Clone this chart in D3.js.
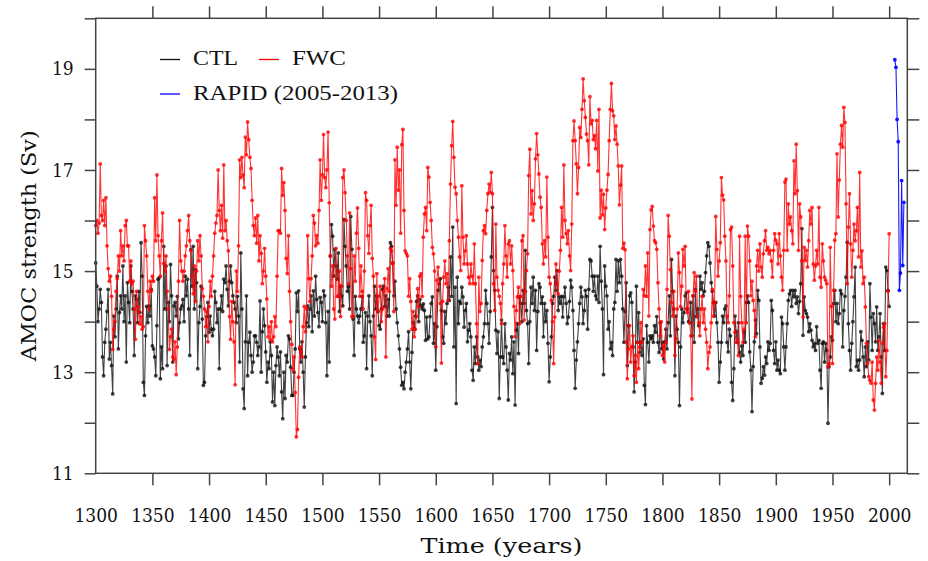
<!DOCTYPE html>
<meta charset="utf-8">
<title>AMOC strength: CTL, FWC and RAPID</title>
<style>
  body { margin: 0; background-color: white; }
  .tick text { font-family: "DejaVu Serif Condensed", "DejaVu Serif", serif; font-stretch: condensed; font-size: 19px; fill: #111; }
  .tick line { stroke: #444; stroke-width: 1.5px; }
  .axis-title { font-family: "DejaVu Serif", serif; font-size: 20px; fill: #111; }
  .legend text { font-family: "Liberation Serif", "Times New Roman", serif; font-size: 22px; fill: #111; }
  .frame { fill: none; stroke: #444; stroke-width: 1.5px; }
</style>
<svg width="928" height="561"></svg>
<script src="https://cdn.jsdelivr.net/npm/d3@7"></script>
<script>
// annual AMOC strength (Sv), 1300-2000
var ctl = [
  15.16,14.70,14.00,14.25,14.64,14.38,13.30,12.93,13.59,13.85,
  14.20,14.64,13.26,13.59,13.13,12.57,14.11,13.70,14.25,14.90,
  13.46,14.18,14.51,14.25,15.10,14.00,14.51,13.20,14.77,14.38,
  13.98,15.10,14.60,14.25,13.33,14.51,14.44,13.98,14.60,14.18,
  15.56,14.90,12.80,12.54,13.72,14.30,13.98,14.31,14.11,14.64,
  13.52,13.46,13.30,12.93,13.92,14.84,14.87,12.87,13.50,13.07,
  15.49,14.25,15.10,13.13,14.38,14.00,15.13,14.51,13.20,14.31,
  14.38,14.11,14.50,13.66,13.98,14.25,14.31,14.44,14.00,14.90,
  14.51,14.84,14.25,13.33,15.43,14.70,15.49,14.25,15.03,14.77,
  13.07,13.98,14.30,14.70,14.05,12.74,12.80,13.72,14.10,14.38,
  13.79,14.11,13.85,13.72,13.85,14.60,14.38,13.98,14.25,13.07,
  14.25,14.51,14.20,14.84,14.77,15.10,14.64,14.31,14.80,15.10,
  14.77,14.51,14.38,14.25,13.98,14.50,14.11,13.20,15.36,14.25,
  12.67,12.28,13.60,14.51,12.93,13.59,13.79,13.33,13.00,13.20,
  13.72,13.72,13.59,13.33,13.50,14.41,13.00,13.80,14.25,13.92,
  13.40,12.80,13.20,13.07,13.60,13.33,12.41,13.00,12.34,13.13,
  13.50,13.30,12.93,13.40,12.61,12.08,13.00,12.48,13.33,13.20,
  13.72,13.66,13.10,12.54,12.54,13.00,13.46,14.57,14.20,14.61,
  13.46,13.20,13.60,13.00,12.31,13.30,13.98,14.31,13.90,14.25,
  14.51,13.80,14.61,14.11,14.90,14.44,14.18,13.90,14.48,14.38,
  14.00,14.61,14.51,13.98,12.93,14.20,13.20,15.30,15.92,15.69,
  14.90,15.43,15.10,14.84,15.36,14.20,14.70,14.51,14.31,16.02,
  15.49,15.10,14.60,14.70,14.25,16.08,15.43,14.05,13.33,14.50,
  14.25,14.11,13.98,14.11,14.25,14.50,13.59,13.72,14.18,13.07,
  14.11,14.51,14.00,13.72,12.93,14.11,14.70,14.25,14.51,14.20,
  13.92,13.85,14.25,14.64,14.70,14.30,14.51,14.11,14.44,14.11,
  15.56,15.49,15.16,14.51,14.80,14.25,13.98,13.72,13.46,13.10,
  12.74,12.80,12.67,13.00,13.20,13.46,13.80,13.20,12.67,13.39,
  13.98,13.85,14.11,14.40,14.51,14.00,14.44,14.31,14.25,14.35,
  14.22,13.63,14.09,13.66,13.70,14.10,14.36,14.49,13.57,13.96,
  13.04,13.90,14.62,14.75,14.85,14.22,13.70,13.57,14.20,13.96,
  14.36,14.68,14.42,15.28,14.50,15.87,13.50,14.68,12.38,14.88,
  13.96,14.40,14.36,14.68,14.49,13.89,14.22,14.36,13.60,13.83,
  13.96,13.70,13.04,12.84,13.50,13.17,13.70,13.30,13.04,13.24,
  13.11,13.50,13.70,13.96,14.62,14.36,13.96,13.57,14.20,15.28,
  16.26,15.01,14.62,13.83,13.37,13.80,12.48,13.30,14.03,13.30,
  13.17,13.96,13.50,13.04,12.45,13.37,13.24,13.70,12.97,13.60,
  12.35,13.83,13.96,13.37,14.49,14.36,14.00,14.62,14.36,15.41,
  14.22,13.96,13.17,14.00,14.68,14.36,14.88,14.22,14.62,13.43,
  14.20,14.75,14.68,14.36,14.49,13.70,14.36,14.00,14.22,13.57,
  12.81,13.30,13.70,14.36,14.50,14.88,14.62,15.01,14.22,14.49,
  14.36,14.50,14.09,14.49,14.68,14.36,13.96,14.09,14.40,14.82,
  14.68,14.22,13.43,12.68,13.24,13.60,13.96,14.36,14.68,14.49,
  13.96,14.22,14.62,14.50,13.85,14.64,15.23,15.20,14.90,14.60,
  14.90,14.51,14.44,14.90,14.38,15.49,14.80,14.25,12.95,15.10,
  14.70,14.51,13.85,14.00,13.46,13.59,13.33,14.25,14.38,15.23,
  14.60,15.20,14.77,15.23,14.90,14.25,13.59,14.20,14.77,13.13,
  13.92,14.51,14.57,14.38,13.50,12.61,13.20,14.70,13.59,14.18,
  13.39,13.60,13.33,13.66,12.74,12.36,13.92,13.59,13.20,13.72,
  13.66,13.72,13.59,13.92,13.79,14.10,13.59,13.39,13.98,13.46,
  13.59,13.26,13.60,13.85,13.46,13.98,14.51,13.72,15.23,14.60,
  14.25,12.93,14.11,13.85,13.59,12.34,13.50,14.25,13.98,14.18,
  14.51,14.57,14.25,14.00,13.98,14.38,13.72,14.51,13.59,14.64,
  14.10,14.25,13.92,14.90,14.64,14.77,14.51,14.60,14.97,15.30,
  15.56,15.49,15.16,14.77,14.60,14.38,14.11,14.38,13.98,13.59,
  12.80,13.20,13.59,14.11,13.98,14.25,14.31,13.59,13.40,13.85,
  13.72,12.80,12.44,13.07,14.11,13.80,13.59,13.98,13.39,13.20,
  13.52,13.33,13.80,13.59,14.38,14.51,14.38,13.40,13.04,12.22,
  13.11,13.60,14.03,13.76,14.62,14.42,13.50,12.78,12.88,13.11,
  12.94,13.30,13.17,13.60,13.43,13.57,14.42,14.22,13.43,13.17,
  13.60,13.04,13.24,13.04,12.97,14.09,13.96,13.50,13.04,13.50,
  13.96,14.42,14.55,14.62,14.30,14.62,14.49,14.62,14.36,14.49,
  14.16,14.40,14.75,15.84,13.73,14.49,14.22,14.16,14.09,13.80,
  13.96,13.83,13.63,13.50,13.57,13.43,13.90,13.57,13.63,13.04,
  12.68,13.57,13.60,13.20,13.57,13.43,11.99,13.11,13.30,13.70,
  13.63,14.36,14.62,14.00,14.36,13.96,14.16,14.62,14.55,13.50,
  14.22,14.50,14.88,15.57,13.96,13.43,13.04,13.57,14.00,14.49,
  15.08,13.11,13.24,13.04,13.24,13.80,13.63,13.30,12.91,13.50,
  13.11,13.60,13.24,14.75,14.09,13.43,14.16,13.96,13.60,14.29,
  13.43,13.70,14.16,13.30,12.58,13.96,13.43,15.08,15.01,14.62,
  14.30
];
var fwc = [
  15.90,16.00,15.75,15.95,17.12,16.10,16.00,16.40,15.90,16.45,
  15.50,15.05,14.80,14.90,14.50,13.45,13.85,14.00,14.60,14.85,
  15.30,15.00,15.80,15.30,15.50,15.20,15.90,16.00,15.50,15.50,
  14.80,15.20,14.75,14.80,14.25,13.65,14.60,14.30,14.20,13.95,
  14.10,13.85,13.90,15.90,15.60,15.30,14.60,14.25,14.80,14.60,
  14.90,14.80,16.45,15.60,16.90,15.70,15.30,14.90,15.60,16.15,
  15.15,15.00,15.30,14.60,14.25,13.45,13.70,13.85,13.30,13.25,
  13.60,12.95,13.50,14.80,16.00,15.20,15.00,14.80,15.00,15.30,
  15.50,15.80,16.10,15.60,15.40,14.90,14.55,15.10,14.40,15.00,
  15.60,15.20,15.70,15.30,14.65,14.50,14.25,13.90,14.20,13.60,
  14.30,14.80,14.50,14.90,15.30,15.75,15.95,16.10,17.00,16.20,
  15.80,16.30,15.65,17.10,15.80,16.00,15.60,15.40,14.10,13.65,
  14.40,14.00,13.60,12.75,15.00,14.60,15.50,17.20,16.85,17.25,
  16.90,16.65,17.65,17.30,17.95,17.60,17.25,17.03,16.40,15.90,
  15.70,16.05,15.55,16.10,15.20,15.70,15.35,14.75,15.00,15.45,
  14.90,14.45,13.70,13.90,13.65,14.00,13.60,13.70,14.10,13.90,
  14.90,15.80,15.80,15.75,17.03,16.50,16.75,16.20,15.25,14.95,
  15.70,14.60,14.00,13.55,13.05,13.30,12.60,11.72,11.87,12.90,
  13.50,13.40,13.30,13.90,14.30,13.80,14.25,15.70,14.85,14.40,
  14.85,15.30,16.10,15.95,15.50,15.70,15.55,16.20,17.20,16.40,
  16.90,17.70,16.85,16.65,17.00,17.75,16.35,15.30,14.70,15.10,
  14.25,14.05,15.45,14.50,14.50,15.00,14.10,14.70,16.85,17.00,
  16.55,16.00,15.30,14.75,16.15,15.05,14.10,14.10,15.30,14.80,
  15.75,16.25,15.45,14.50,15.10,14.60,14.25,15.00,16.55,16.40,
  15.70,15.35,15.90,16.30,15.25,14.90,13.70,13.25,14.95,14.20,
  14.50,14.70,14.00,14.25,14.60,14.85,13.30,14.65,15.05,14.60,
  15.45,15.40,15.15,14.20,17.20,16.30,17.45,16.60,17.00,15.75,
  17.50,17.80,16.20,15.40,15.35,15.30,14.50,14.85,14.40,13.85,
  14.20,13.70,13.85,14.10,14.65,14.30,14.90,14.95,14.50,15.67,
  16.13,16.26,15.80,17.05,16.86,16.36,16.00,15.47,15.34,15.00,
  13.50,14.82,15.08,14.75,14.36,13.18,14.40,14.88,15.20,14.75,
  14.95,14.42,15.60,16.72,17.48,17.96,17.25,16.66,16.53,16.00,
  15.67,15.28,15.01,16.69,15.67,15.14,15.40,15.70,15.14,14.88,
  14.75,15.14,14.90,14.75,15.54,14.75,13.96,13.17,14.88,14.20,
  14.36,15.21,15.80,15.90,15.74,16.20,16.53,16.72,16.56,16.95,
  16.53,14.75,14.22,15.93,14.88,14.62,14.50,14.36,13.96,14.75,
  15.14,15.90,15.30,14.88,15.54,15.60,15.14,15.50,15.01,14.30,
  13.70,14.22,14.49,14.68,13.96,14.50,15.60,15.70,14.03,14.60,
  15.01,15.34,16.89,17.41,16.13,16.59,16.00,16.33,17.22,17.72,
  17.30,16.92,16.46,16.26,15.54,15.14,15.60,15.28,16.86,15.67,
  14.88,14.75,14.42,14.00,13.17,14.09,15.14,14.75,14.55,15.00,
  15.41,16.26,15.67,17.10,16.00,15.74,15.54,15.80,15.30,15.01,
  15.93,17.58,17.97,17.58,17.12,16.53,17.05,17.84,17.64,18.20,
  18.80,18.37,18.04,17.71,17.58,17.10,18.45,17.91,17.98,17.60,
  17.68,17.42,17.98,16.98,18.20,16.05,16.60,16.11,16.52,15.82,
  16.25,16.60,16.91,17.58,18.20,18.71,18.17,18.07,17.60,17.87,
  17.51,17.08,16.31,16.70,17.08,15.45,15.55,15.42,13.60,12.87,
  13.46,13.92,13.20,13.50,13.72,12.93,13.33,12.80,13.59,13.07,
  13.50,13.98,13.59,14.64,14.51,15.10,14.50,15.36,14.11,15.82,
  16.21,16.28,15.89,15.60,15.56,15.43,14.77,14.25,13.72,14.00,
  13.33,13.52,13.20,13.59,14.64,16.10,15.69,15.03,14.38,14.11,
  14.60,13.33,13.66,14.25,15.36,14.97,14.30,14.70,15.43,15.10,
  15.49,14.25,14.18,14.60,13.98,13.72,12.47,14.51,14.97,14.60,
  14.90,14.11,13.98,13.72,14.25,14.50,13.98,14.25,13.85,13.59,
  13.07,13.39,13.50,13.98,14.64,14.11,14.38,16.08,15.43,14.90,
  15.20,15.56,16.85,16.50,16.41,15.69,15.20,14.11,13.98,14.51,
  15.82,15.87,15.10,13.98,13.79,13.59,13.66,13.33,15.69,14.50,
  13.98,13.59,13.85,15.69,13.98,15.89,15.69,15.20,14.51,14.80,
  14.42,14.22,13.70,15.10,15.41,15.00,15.54,15.08,14.88,15.34,
  15.60,15.80,15.41,15.47,15.34,15.41,15.20,14.88,15.41,15.74,
  15.61,15.54,15.14,15.74,15.30,14.88,14.62,15.41,16.76,16.82,
  15.41,16.33,15.93,16.07,15.80,15.54,17.18,16.53,17.51,16.59,
  15.41,16.33,16.07,15.20,14.09,15.47,15.21,15.41,15.08,15.60,
  16.20,15.93,16.26,15.14,14.82,15.10,15.41,15.14,16.26,14.88,
  14.68,15.54,15.20,14.88,14.82,14.75,13.10,13.17,15.47,14.30,
  13.17,14.62,15.61,15.74,17.32,16.07,16.80,17.51,17.88,17.45,
  18.24,17.94,16.33,14.75,15.87,16.53,15.54,14.88,15.41,15.93,
  15.60,15.80,16.26,15.28,16.95,15.08,15.40,14.75,14.88,14.29,
  13.57,13.17,12.91,12.84,12.78,13.20,12.45,12.25,12.78,13.30,
  13.04,13.63,13.20,12.78,13.57,13.89,13.96,12.91,13.43,14.60,
  15.74
];
var years = d3.range(1300, 1300 + ctl.length);

// RAPID array observations, annual means
var rapidYears = [2005, 2006, 2007, 2008, 2009, 2010, 2011, 2012, 2013];
var rapid = [19.18, 19.03, 18.00, 17.56, 14.62, 14.96, 16.79, 15.11, 16.36];

var xTickValues = d3.range(1300, 2001, 50);
var yTickValues = d3.range(11, 21, 1);
var yLabelValues = [11, 13, 15, 17, 19];

var svg = d3.select("svg");
var plotLeft = 95.7, plotRight = 907.3, plotTop = 18.3, plotBottom = 473.3;

var x = d3.scaleLinear().domain([1300, 2016]).range([plotLeft, plotRight]);
var y = d3.scaleLinear().domain([11, 20]).range([plotBottom, plotTop]);

// axes: ticks point outward on all four sides
var gBottom = svg.append("g")
    .attr("transform", "translate(0," + plotBottom + ")")
    .call(d3.axisBottom(x).tickValues(xTickValues).tickSize(12).tickPadding(23)
          .tickFormat(d3.format("d")));
gBottom.selectAll(".tick").filter(function(d) { return d === 1300; }).select("line").remove();

svg.append("g")
    .attr("transform", "translate(0," + plotTop + ")")
    .call(d3.axisTop(x).tickValues(xTickValues.slice(1)).tickSize(12).tickFormat(""));

svg.append("g")
    .attr("transform", "translate(" + plotLeft + ",0)")
    .call(d3.axisLeft(y).tickValues(yTickValues).tickSize(11).tickPadding(11)
          .tickFormat(function(d) { return yLabelValues.indexOf(d) >= 0 ? d : ""; }));

svg.append("g")
    .attr("transform", "translate(" + plotRight + ",0)")
    .call(d3.axisRight(y).tickValues(yTickValues).tickSize(12).tickFormat(""));

svg.selectAll(".domain").remove();
svg.selectAll(".tick text").attr("fill", "#111");

// series
var line = d3.line()
    .x(function(d) { return x(d[0]); })
    .y(function(d) { return y(d[1]); });

function drawSeries(xs, vs, color, opacity) {
  var pts = xs.map(function(t, i) { return [t, vs[i]]; });
  var g = svg.append("g");
  g.append("path")
      .datum(pts)
      .attr("fill", "none")
      .attr("stroke", color)
      .attr("stroke-opacity", opacity)
      .attr("stroke-width", 1.1)
      .attr("d", line);
  g.selectAll("circle")
      .data(pts)
      .enter().append("circle")
      .attr("cx", function(d) { return x(d[0]); })
      .attr("cy", function(d) { return y(d[1]); })
      .attr("r", 1.9)
      .attr("fill", color)
      .attr("fill-opacity", opacity);
}

drawSeries(years, ctl, "#111111", 0.8);
drawSeries(years, fwc, "#ff0000", 0.8);
drawSeries(rapidYears, rapid, "#0000ff", 0.9);

svg.append("rect")
    .attr("class", "frame")
    .attr("x", plotLeft).attr("y", plotTop)
    .attr("width", plotRight - plotLeft).attr("height", plotBottom - plotTop);

// axis titles
svg.append("text")
    .attr("class", "axis-title")
    .attr("x", (plotLeft + plotRight) / 2).attr("y", 552.5)
    .attr("text-anchor", "middle")
    .attr("textLength", 162).attr("lengthAdjust", "spacingAndGlyphs")
    .text("Time (years)");

svg.append("text")
    .attr("class", "axis-title")
    .attr("transform", "translate(36," + (plotTop + plotBottom) / 2 + ") rotate(-90)")
    .attr("text-anchor", "middle")
    .attr("textLength", 231).attr("lengthAdjust", "spacingAndGlyphs")
    .text("AMOC strength (Sv)");

// legend
var legendItems = [
  {label: "CTL", color: "#111111", x: 160, y: 59.5, w: 45},
  {label: "FWC", color: "#ff0000", x: 259, y: 59.5, w: 54},
  {label: "RAPID (2005-2013)", color: "#0000ff", x: 160, y: 94, w: 205}
];
var legend = svg.append("g").attr("class", "legend");
legendItems.forEach(function(it) {
  legend.append("line")
      .attr("x1", it.x).attr("x2", it.x + 20)
      .attr("y1", it.y).attr("y2", it.y)
      .attr("stroke", it.color).attr("stroke-width", 1.3);
  legend.append("text")
      .attr("x", it.x + 33).attr("y", it.y + 5.5)
      .attr("textLength", it.w).attr("lengthAdjust", "spacingAndGlyphs")
      .text(it.label);
});
</script>
